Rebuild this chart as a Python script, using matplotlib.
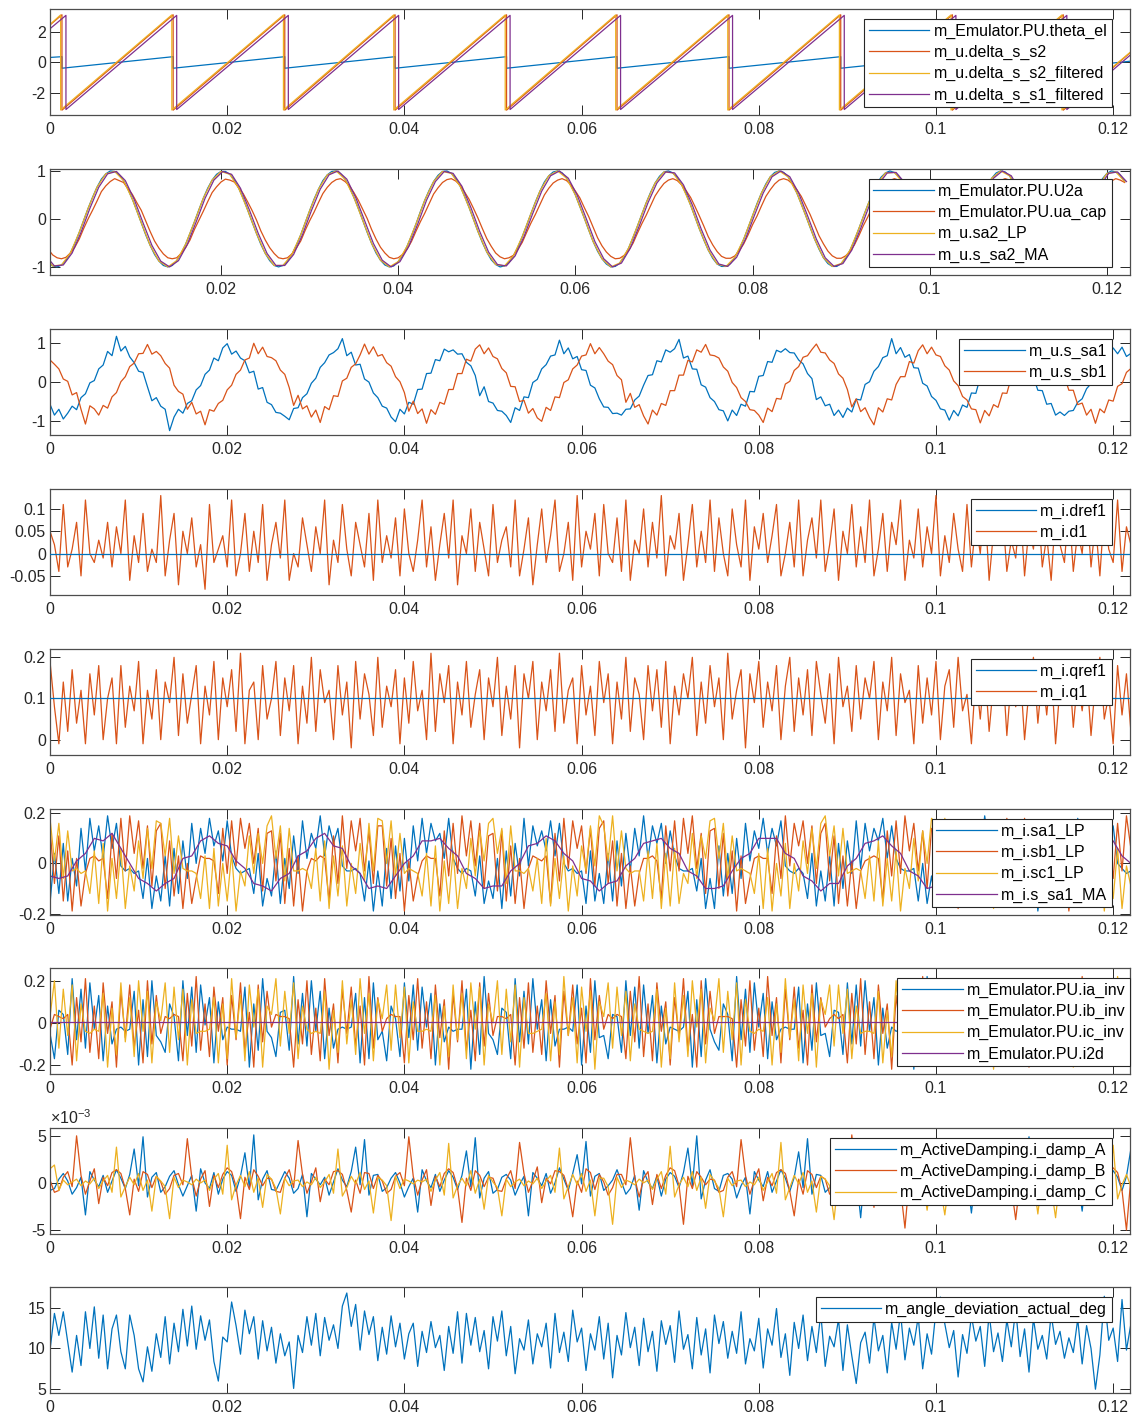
import numpy as np
import matplotlib.pyplot as plt
from matplotlib.ticker import FuncFormatter

plt.rcParams['font.family'] = ['Liberation Sans', 'DejaVu Sans']
plt.rcParams['axes.unicode_minus'] = False
plt.rcParams['mathtext.fontset'] = 'custom'
plt.rcParams['mathtext.rm'] = 'Liberation Sans'
plt.rcParams['font.size'] = 11.5

BLUE, RED, YEL, PUR = '#0072BD', '#D95319', '#EDB120', '#7E2F8E'

# ---- logged signals (sample step 0.5 ms unless noted) ----
dt = 0.0005
n = 245

# angles, rad (piecewise linear ramps)
ramp_t = [0, 0.00135, 0.00135, 0.0139, 0.0139, 0.0265, 0.0265, 0.03895, 0.03895, 0.05153, 0.05153,
          0.064, 0.064, 0.07664, 0.07664, 0.08925, 0.08925, 0.10185, 0.10185, 0.11437, 0.11437, 0.1219]
theta_el = [0.33, 0.38, -0.38, 0.38, -0.38, 0.38, -0.38, 0.38, -0.38, 0.38, -0.38,
            0.38, -0.38, 0.38, -0.38, 0.38, -0.38, 0.38, -0.38, 0.38, -0.38, 0.08]
delta_s_s2 = [2.47, 3.14, -3.14, 3.14, -3.14, 3.14, -3.14, 3.14, -3.14, 3.14, -3.14,
              3.14, -3.14, 3.14, -3.14, 3.14, -3.14, 3.14, -3.14, 3.14, -3.14, 0.63]
filt_t = [0, 0.0012, 0.0012, 0.01375, 0.01375, 0.02635, 0.02635, 0.0388, 0.0388, 0.05138, 0.05138,
          0.06385, 0.06385, 0.0765, 0.0765, 0.0891, 0.0891, 0.1017, 0.1017, 0.11422, 0.11422, 0.1219]
delta_s_s2_filt = [2.5, 3.13, -3.13, 3.13, -3.13, 3.13, -3.13, 3.13, -3.13, 3.13, -3.13,
                   3.13, -3.13, 3.13, -3.13, 3.13, -3.13, 3.13, -3.13, 3.13, -3.13, 0.66]
s1_t = [0, 0.0018, 0.0018, 0.0143, 0.0143, 0.0269, 0.0269, 0.03935, 0.03935, 0.05193, 0.05193,
        0.0644, 0.0644, 0.07704, 0.07704, 0.08965, 0.08965, 0.10225, 0.10225, 0.11477, 0.11477, 0.1219]
delta_s_s1_filt = [2.22, 3.1, -3.1, 3.1, -3.1, 3.1, -3.1, 3.1, -3.1, 3.1, -3.1,
                   3.1, -3.1, 3.1, -3.1, 3.1, -3.1, 3.1, -3.1, 3.1, -3.1, 0.47]

# voltages, percent of nominal
U2a = [
    -76, -90, -98, -100, -96, -86, -71, -51, -28, -3, 22, 45, 66, 83, 94, 100, 99, 92, 80, 62, 41, 17, -8, -33, -55,
    -74, -88, -97, -100, -97, -87, -72, -53, -30, -6, 19, 43, 64, 81, 93, 99, 99, 93, 81, 64, 43, 19, -6, -30, -53,
    -72, -87, -97, -100, -97, -88, -74, -55, -33, -8, 17, 41, 62, 80, 92, 99, 100, 94, 83, 66, 45, 22, -3, -28, -51,
    -71, -86, -96, -100, -98, -89, -76, -57, -35, -11, 15, 39, 60, 78, 91, 99, 100, 95, 84, 68, 47, 24, -1, -26, -49,
    -69, -85, -95, -100, -98, -91, -77, -59, -37, -13, 12, 36, 58, 77, 90, 98, 100, 96, 85, 70, 50, 26, 2, -23, -47,
    -67, -83, -94, -100, -99, -92, -79, -61, -39, -15, 10, 34, 56, 75, 89, 98, 100, 96, 86, 71, 52, 29, 4, -21, -44,
    -65, -82, -94, -99, -99, -93, -80, -63, -42, -18, 7, 32, 54, 73, 88, 97, 100, 97, 88, 73, 54, 31, 7, -18, -42,
    -63, -81, -93, -99, -99, -93, -82, -65, -44, -20, 5, 29, 52, 72, 87, 96, 100, 97, 89, 75, 56, 33, 9, -16, -40,
    -61, -79, -92, -99, -100, -94, -83, -67, -46, -23, 2, 27, 50, 70, 85, 96, 100, 98, 90, 76, 58, 36, 12, -14, -38,
    -59, -78, -91, -98, -100, -95, -84, -68, -48, -25, 0, 25, 48, 68, 84, 95, 100, 98, 91, 78]
ua_cap = [
    -47, -63, -75, -81, -83, -80, -71, -59, -42, -20, 0, 18, 37, 57, 69, 78, 84, 80, 76, 63, 51, 34, 18, -4, -26,
    -46, -61, -73, -81, -83, -81, -72, -60, -44, -22, -3, 16, 36, 55, 67, 77, 83, 81, 77, 65, 53, 36, 18, -2, -25,
    -44, -60, -72, -81, -83, -81, -73, -61, -46, -24, -4, 14, 34, 53, 66, 76, 82, 84, 78, 69, 55, 39, 20, 1, -22,
    -42, -59, -71, -80, -83, -81, -74, -63, -47, -26, -6, 12, 32, 52, 65, 76, 82, 84, 79, 70, 56, 41, 22, 2, -20,
    -41, -57, -71, -79, -83, -81, -76, -64, -49, -28, -8, 10, 30, 50, 64, 75, 81, 84, 80, 71, 58, 44, 24, 5, -17,
    -39, -56, -69, -78, -83, -82, -76, -66, -51, -30, -10, 8, 28, 48, 62, 74, 81, 84, 80, 71, 59, 45, 26, 6, -15,
    -37, -54, -68, -78, -82, -82, -77, -66, -52, -33, -12, 6, 27, 47, 61, 73, 81, 84, 81, 73, 61, 47, 28, 9, -13,
    -35, -52, -67, -77, -82, -82, -77, -68, -54, -35, -14, 4, 24, 45, 60, 72, 80, 84, 81, 74, 62, 48, 29, 10, -11,
    -33, -51, -66, -76, -82, -83, -78, -69, -56, -36, -16, 2, 22, 44, 58, 71, 80, 84, 81, 75, 63, 50, 32, 13, -10,
    -32, -49, -65, -76, -81, -83, -79, -70, -56, -38, -18, 0, 21, 42, 56, 70, 79, 84, 81, 76]
# filtered phase voltage, 1 ms step
sa2_LP = [
    -76, -98, -96, -71, -28, 22, 66, 94, 99, 80, 41, -8, -55,
    -88, -100, -87, -53, -6, 43, 81, 99, 93, 64, 19, -30,
    -72, -97, -97, -74, -33, 17, 62, 92, 100, 83, 45, -3, -51,
    -86, -100, -89, -57, -11, 39, 78, 99, 95, 68, 24, -26,
    -69, -95, -98, -77, -37, 12, 58, 90, 100, 85, 50, 2, -47,
    -83, -100, -92, -61, -15, 34, 75, 98, 96, 71, 29, -21,
    -65, -94, -99, -80, -42, 7, 54, 88, 100, 88, 54, 7, -42,
    -81, -99, -93, -65, -20, 29, 72, 96, 97, 75, 33, -16,
    -61, -92, -100, -83, -46, 2, 50, 85, 100, 90, 58, 12, -38,
    -78, -98, -95, -68, -25, 25, 68, 95, 98, 78]
ma_delay = 0.0002

s_sa1 = [
    -57, -85, -70, -95, -80, -62, -71, -40, -30, -2, 4, 34, 44, 79, 68, 118, 80, 92, 65, 50, 28, 25, -12, -48, -40,
    -62, -70, -125, -90, -70, -80, -55, -48, -20, -9, 20, 31, 62, 55, 88, 99, 72, 80, 62, 55, 24, 28, -18, -14, -52,
    -58, -78, -80, -88, -97, -68, -66, -40, -30, -3, 10, 38, 50, 70, 76, 86, 112, 68, 77, 44, 46, 8, 0, -28, -40,
    -62, -67, -90, -102, -70, -82, -52, -57, -19, -18, 22, 23, 58, 55, 85, 78, 83, 72, 73, 51, 42, 17, -35, -12, -50,
    -54, -73, -75, -86, -104, -66, -73, -38, -40, -1, 7, 34, 45, 67, 70, 108, 73, 88, 60, 66, 32, 30, -8, -15, -43,
    -64, -65, -81, -80, -85, -70, -69, -46, -36, -8, 17, 19, 55, 52, 83, 77, 86, 110, 62, 67, 34, 33, -7, -13, -40,
    -50, -71, -74, -100, -72, -86, -57, -62, -24, -25, 15, 17, 53, 51, 82, 77, 86, 76, 75, 57, 47, 22, 9, -45, -38,
    -61, -57, -86, -72, -91, -67, -77, -44, -46, -6, 1, 28, 40, 63, 68, 112, 73, 89, 64, 71, 37, 36, -3, -10, -37,
    -47, -69, -72, -98, -73, -87, -59, -65, -28, -29, 12, 13, 50, 48, 80, 76, 86, 77, 78, 59, 51, 27, 13, -21, -22,
    -57, -55, -85, -77, -86, -75, -73, -52, -43, -17, -4, 25, 36, 60, 66, 88, 73, 90, 66, 74]
s_sb1 = [
    57, 46, 34, 8, 2, -33, -27, -70, -108, -61, -69, -85, -60, -67, -38, -27, 1, 14, 40, 49, 73, 74, 97, 72, 79,
    68, 48, 36, -8, -24, -31, -70, -52, -82, -75, -110, -71, -75, -55, -47, -20, -8, 20, 31, 57, 62, 100, 73, 90, 66,
    63, 55, 31, 20, -14, -60, -34, -69, -61, -90, -72, -104, -63, -71, -35, -37, 3, 10, 38, 47, 70, 98, 72, 91, 67,
    71, 50, 41, 14, 1, -27, -75, -49, -81, -69, -106, -71, -83, -52, -57, -19, -19, 22, 22, 59, 54, 85, 96, 73, 88,
    66, 60, 35, 24, -11, -12, -50, -47, -80, -68, -92, -101, -65, -73, -38, -40, -1, 6, 34, 44, 67, 70, 99, 73, 89,
    73, 54, 45, 17, 6, -52, -29, -65, -58, -87, -108, -72, -85, -55, -60, -22, -22, 18, 18, 56, 52, 83, 77, 97, 70,
    68, 62, 39, 28, -1, -14, -40, -50, -71, -73, -85, -104, -67, -76, -42, -44, -5, 2, 30, 40, 64, 68, 84, 98, 77,
    75, 57, 48, 21, 10, -19, -64, -43, -76, -66, -91, -110, -66, -77, -43, -46, -6, 14, 14, 53, 49, 81, 96, 73, 90,
    70, 66, 42, 31, 3, -9, -37, -46, -69, -71, -105, -73, -87, -58, -65, -28, -29, 12, 12, 51, 47, 80, 100, 72, 84,
    77, 59, 52, 26, 14, -21, -21, -58, -54, -85, -70, -106, -69, -79, -46, -49, -11, -4, 25, 35]

# dq currents, percent
dref1 = [0, 0]
d1 = [
    5, 2, -4, 11, -3, 1, 7, -5, 12, 0, -2, 3, -1, 7, -3, 6, 0, 12, -6, 4, -2, 9, -4, 1, -2,
    13, -5, 3, 9, -7, 5, 0, 8, -3, 2, -8, 11, -2, 1, 4, -3, 12, -5, 0, 9, -4, 5, -2, 11, -6,
    2, 7, -1, 12, -6, 0, -3, 8, 2, -4, 6, 0, 12, -7, 3, -2, 11, 1, -5, 7, 2, -3, 9, -6, 12,
    -2, 4, -1, 8, -5, 10, 0, -4, 3, 12, -3, 6, -6, 2, 9, -1, 12, -7, 4, 0, 10, -4, 7, 1, -5,
    11, -2, 3, 6, -3, 12, -5, 1, 8, -7, 2, 10, -2, 4, 12, -4, 0, 7, -6, 13, -3, 5, 1, 9, -5,
    11, 0, -2, 8, -4, 12, -6, 3, 0, 10, -3, 7, -1, 13, -5, 4, 1, 9, -6, 2, 11, -3, 5, -2, 12,
    -4, 8, 0, -5, 10, 2, -3, 12, -6, 6, 1, 9, -2, 4, 11, -5, 0, 7, -3, 12, -5, 3, 8, -1, 12,
    -4, 2, 10, -6, 5, 0, 11, -3, 6, -2, 12, -5, 1, 9, -4, 7, 2, 12, -6, 3, -1, 10, -3, 6, 0,
    13, -5, 4, -2, 9, 1, -4, 11, -3, 7, 0, 12, -6, 5, 2, 10, -4, 3, -1, 11, -5, 6, 1, 12, -3,
    4, -6, 9, 2, -2, 11, -4, 5, 0, 12, -3, 7, -5, 10, 1, -2, 12, -4, 6, 2]
qref1 = [10, 10]
q1 = [
    19, 8, -1, 14, 2, 17, 4, 12, -1, 16, 6, 18, 0, 10, 15, -1, 18, 3, 13, 7, 19, -1, 12, 5, 17,
    0, 14, 9, 20, 1, 16, 4, 11, 18, -1, 13, 6, 19, 0, 15, 8, 17, 2, 21, -1, 12, 14, 0, 18, 5,
    10, 19, 1, 15, 7, 18, -1, 13, 4, 20, 2, 17, 9, 12, 0, 18, 6, 14, -2, 19, 5, 16, 11, 1, 20,
    3, 13, 8, 17, -1, 15, 4, 19, 7, 12, 0, 21, 2, 16, 9, 18, -1, 14, 6, 19, 3, 11, 17, 0, 15,
    8, 20, 1, 13, 5, 18, -2, 16, 10, 19, 0, 14, 7, 17, 2, 21, 4, 12, 15, -1, 18, 6, 13, 1, 19,
    9, 16, -1, 14, 5, 20, 2, 15, 11, 0, 18, 7, 17, 3, 19, -1, 13, 6, 16, 10, 20, 1, 14, 4, 18,
    8, 15, 0, 21, 5, 12, 17, -2, 16, 9, 19, 3, 14, 7, 18, 0, 13, 20, 2, 15, 6, 17, 1, 19, 11,
    4, 16, -1, 20, 8, 13, 2, 18, 5, 15, 10, 19, 0, 14, 7, 20, 1, 16, 9, 12, -1, 18, 4, 15, 6,
    19, 0, 13, 17, 3, 20, 7, 11, -1, 16, 5, 18, 2, 14, 10, 19, 1, 15, 8, 17, 0, 12, 20, 4, 16,
    6, 18, -1, 13, 9, 19, 3, 15, 7, 17, 1, 14, 20, 5, 11, -1, 18, 6, 16, 2]

# filtered phase currents, percent
sa1_LP = [
    -16, 4, -12, 8, -15, 2, -9, 14, -3, 18, 5, 15, 2, 19, 6, 16, -1, -3, -2, -4, -3, -14, 2, -18, -5,
    -15, 3, -17, 6, -12, 9, -6, 16, 0, 14, 4, 18, 7, 13, 1, 17, 3, -2, -4, -3, -2, -12, 4, -17, -6,
    -13, 5, -16, 2, -10, 11, -4, 17, 2, 12, 6, 19, 3, 15, 8, 14, -1, -3, -3, -2, -4, -15, 1, -19, -3,
    -17, 6, -14, 7, -11, 10, -7, 15, 1, 18, 4, 16, 9, 12, 2, 18, 2, -2, -4, -2, -3, -13, 3, -16, -7,
    -14, 2, -18, 5, -13, 8, -5, 18, -1, 15, 7, 13, 5, 17, 3, 16, 0, -3, -2, -4, -3, -16, 5, -15, -4,
    -16, 4, -15, 9, -9, 12, -3, 14, 3, 19, 2, 15, 8, 16, 0, 13, 3, -2, -3, -3, -2, -11, 2, -18, -6,
    -18, 7, -13, 4, -12, 10, -6, 16, 1, 13, 6, 18, 4, 14, 7, 17, -1, -3, -4, -2, -4, -14, 4, -17, -3,
    -15, 3, -17, 8, -10, 9, -4, 17, -2, 16, 5, 14, 9, 18, 2, 15, 2, -2, -3, -3, -2, -15, 0, -16, -5,
    -17, 5, -14, 6, -13, 11, -5, 15, 2, 17, 3, 19, 6, 13, 4, 16, 1, -3, -2, -4, -3, -12, 3, -19, -4,
    -14, 4, -16, 7, -11, 8, -7, 18, 0, 14, 6, 16, 3, 17, 8, 15, 0, -2, -4, -3]
sb1_LP = [
    14, -8, 11, -15, 5, -19, 2, -17, -4, 2, 3, 1, 2, -14, 12, -6, 18, -3, 19, 4, 17, -2, 15, -9, 13,
    16, -10, 9, -13, 3, -18, 0, -16, -6, 3, 2, 2, 1, -12, 14, -4, 17, -1, 18, 6, 16, 0, 14, -11, 12,
    13, -7, 12, -16, 6, -17, 3, -19, -3, 2, 1, 3, 2, -15, 11, -8, 19, -2, 17, 5, 18, -3, 13, -8, 15,
    15, -9, 10, -14, 4, -19, 1, -15, -5, 1, 3, 2, 2, -13, 13, -5, 16, -4, 19, 3, 17, -1, 16, -10, 11,
    12, -11, 13, -15, 7, -16, 2, -18, -2, 3, 2, 1, 3, -16, 12, -7, 18, -2, 17, 6, 15, -4, 14, -9, 14,
    17, -8, 9, -17, 4, -18, -1, -17, -4, 2, 2, 3, 1, -14, 15, -3, 17, -3, 18, 4, 19, -2, 12, -12, 13,
    14, -10, 12, -13, 5, -19, 3, -16, -6, 2, 3, 2, 2, -12, 11, -6, 19, -1, 16, 7, 17, 0, 15, -8, 12,
    16, -7, 11, -16, 3, -17, 1, -18, -3, 1, 2, 3, 2, -15, 13, -5, 17, -4, 19, 5, 16, -3, 13, -10, 14,
    13, -9, 10, -14, 6, -18, 2, -15, -5, 3, 1, 2, 3, -13, 14, -8, 18, -2, 17, 3, 18, -1, 16, -9, 11,
    15, -11, 13, -15, 4, -19, 0, -17, -4, 2, 3, 1, 2, -16, 12, -6, 16, -3, 19, 6]
sc1_LP = [
    18, 1, 16, -6, 13, -3, -2, -4, -3, -12, 5, -16, 8, -19, 2, -14, 6, -18, -1, -11, 9, -6, 14, -2, 17,
    16, 3, 18, -4, 11, -2, -3, -3, -4, -14, 3, -18, 6, -17, 0, -15, 4, -19, -3, -9, 11, -4, 12, 0, 15,
    19, 2, 15, -7, 14, -3, -3, -2, -3, -10, 6, -15, 9, -18, 3, -13, 7, -17, 0, -12, 8, -7, 16, -3, 18,
    17, 0, 17, -5, 12, -4, -2, -3, -4, -13, 4, -17, 7, -19, 1, -16, 5, -18, -2, -10, 10, -5, 13, 1, 16,
    18, 4, 14, -8, 15, -3, -3, -4, -2, -11, 2, -16, 10, -17, 2, -14, 3, -19, -1, -13, 7, -3, 15, -1, 19,
    15, 1, 19, -3, 13, -2, -4, -3, -3, -15, 5, -14, 8, -18, 4, -17, 6, -16, -4, -8, 12, -6, 11, 2, 17,
    18, 2, 16, -6, 11, -3, -2, -3, -4, -12, 4, -18, 6, -19, 0, -13, 8, -18, 0, -11, 9, -4, 14, -2, 16,
    19, 3, 15, -5, 14, -4, -3, -2, -3, -14, 3, -15, 9, -17, 2, -15, 5, -19, -2, -10, 10, -7, 13, 0, 18,
    16, 0, 18, -7, 12, -3, -3, -4, -3, -11, 6, -17, 7, -18, 3, -16, 4, -17, -3, -12, 8, -5, 15, -1, 17,
    17, 2, 16, -4, 13, -2, -4, -3, -2, -13, 5, -16, 8, -19, 1, -14, 6, -18, -1, -9]
# moving average of phase a current, 1 ms step
s_sa1_MA = [
    -5, -6, -5, 1, 4, 10, 9, 12, 6, 0, -6, -8, -11, -8, -6, 2, 3, 9, 11, 8, 7, 1, -2, -8, -9,
    -11, -6, -4, 3, 5, 10, 12, 7, 6, -1, -4, -10, -9, -10, -5, 0, 3, 9, 9, 10, 6, 3, -4, -6, -10,
    -9, -9, -3, 0, 7, 8, 11, 9, 4, 1, -6, -7, -11, -8, -7, -1, 2, 8, 9, 10, 6, 4, -3, -5, -10,
    -10, -9, -3, 2, 4, 10, 10, 10, 4, 2, -5, -7, -11, -8, -8, -1, 2, 8, 9, 11, 7, 4, -3, -5, -10,
    -9, -9, -4, -1, 6, 7, 11, 8, 7, 0, -3, -9, -9, -10, -6, -4, 3, 6, 10, 9, 9, 3, 0]

# inverter currents, percent
ia_inv = [
    -5, -17, 6, 4, -15, 21, -8, 16, -12, 19, -3, 13, -18, 8, -10, -3, -2, -4, -3, 15, -20, 11, -16, 20, -6,
    -9, -14, 9, 3, -18, 20, -6, 17, -14, 18, -1, 12, -19, 10, -8, -2, -3, -3, -4, 17, -21, 9, -13, 21, -4,
    -7, -16, 5, 6, -13, 22, -10, 14, -11, 20, -4, 15, -17, 7, -12, -3, -2, -3, -2, 14, -19, 12, -17, 19, -8,
    -4, -18, 8, 2, -16, 19, -7, 18, -13, 17, -2, 14, -20, 9, -9, -2, -4, -3, -3, 16, -22, 10, -15, 22, -5,
    -8, -15, 7, 5, -17, 21, -9, 15, -10, 21, -3, 11, -18, 11, -11, -3, -3, -2, -4, 18, -20, 8, -14, 20, -7,
    -6, -17, 4, 3, -14, 20, -6, 17, -12, 18, -5, 13, -19, 8, -10, -2, -3, -4, -2, 15, -21, 11, -16, 21, -3,
    -9, -13, 9, 4, -18, 22, -8, 16, -14, 19, -2, 14, -17, 10, -8, -3, -2, -3, -3, 17, -19, 9, -13, 19, -6,
    -5, -16, 6, 5, -15, 19, -10, 18, -11, 20, -4, 12, -20, 7, -12, -2, -4, -3, -4, 14, -22, 12, -17, 22, -4,
    -7, -18, 8, 2, -16, 21, -7, 14, -13, 17, -3, 15, -18, 9, -9, -3, -3, -2, -3, 16, -20, 10, -15, 20, -8,
    -4, -15, 5, 6, -17, 20, -9, 17, -12, 21, -1, 13, -19, 11, -11, -2, -3, -4, -2, 18]
ib_inv = [
    -3, 4, 3, 2, 4, -20, 12, -9, 21, -14, 8, -17, 19, -5, 10, -21, 15, -7, 18, -12, 6, -19, 20, -10, 13,
    -5, 3, 2, 4, 3, -18, 14, -11, 22, -13, 9, -16, 17, -4, 12, -20, 13, -8, 19, -14, 5, -21, 18, -9, 15,
    -2, 4, 3, 3, 2, -21, 11, -10, 20, -15, 7, -18, 21, -6, 9, -19, 16, -5, 17, -11, 8, -20, 22, -12, 12,
    -4, 2, 4, 3, 3, -19, 13, -8, 21, -12, 10, -17, 18, -7, 11, -22, 14, -9, 20, -13, 6, -18, 19, -11, 14,
    -6, 3, 3, 2, 4, -20, 12, -12, 19, -14, 8, -15, 20, -5, 13, -21, 15, -6, 18, -10, 7, -19, 21, -8, 13,
    -3, 4, 2, 4, 3, -17, 15, -9, 22, -16, 9, -18, 19, -4, 10, -20, 12, -7, 21, -13, 4, -21, 20, -10, 15,
    -5, 3, 3, 3, 2, -21, 11, -11, 20, -13, 7, -16, 22, -6, 12, -19, 16, -8, 17, -12, 6, -20, 18, -9, 12,
    -2, 2, 4, 2, 4, -19, 14, -10, 21, -15, 10, -17, 18, -5, 9, -22, 13, -5, 19, -11, 8, -18, 22, -12, 14,
    -4, 4, 3, 4, 3, -18, 12, -8, 20, -14, 8, -19, 21, -7, 11, -20, 15, -9, 18, -13, 5, -21, 19, -10, 13,
    -6, 3, 2, 3, 3, -20, 13, -11, 22, -12, 9, -16, 20, -4, 12, -19, 14, -6, 17, -14]
ic_inv = [
    3, 20, -12, 16, -6, 18, -18, 9, -4, -5, -3, -4, 14, -21, 7, -15, 19, -9, 12, -16, 20, -4, 15, -19, 10,
    1, 19, -14, 17, -8, 16, -20, 11, -5, -4, -4, -3, 12, -19, 9, -17, 21, -7, 13, -18, 18, -2, 16, -21, 8,
    4, 21, -11, 15, -5, 19, -17, 8, -3, -5, -4, -5, 15, -22, 6, -14, 20, -10, 11, -15, 21, -5, 14, -18, 11,
    2, 18, -13, 18, -7, 17, -19, 10, -4, -4, -3, -4, 13, -20, 8, -16, 18, -8, 14, -17, 19, -3, 17, -20, 9,
    0, 20, -15, 16, -9, 18, -21, 12, -5, -5, -4, -3, 14, -18, 10, -15, 22, -6, 12, -19, 17, -4, 15, -22, 10,
    3, 19, -12, 17, -6, 15, -18, 9, -3, -4, -5, -4, 16, -21, 7, -17, 19, -9, 13, -16, 20, -2, 16, -19, 7,
    1, 21, -14, 15, -8, 19, -20, 11, -4, -5, -3, -4, 12, -20, 9, -14, 21, -7, 11, -18, 18, -5, 14, -21, 11,
    4, 18, -11, 18, -5, 16, -17, 8, -5, -4, -4, -5, 15, -19, 6, -16, 20, -10, 14, -15, 21, -3, 17, -18, 8,
    2, 20, -13, 16, -7, 18, -19, 10, -3, -5, -3, -3, 13, -22, 8, -17, 18, -8, 12, -17, 19, -4, 15, -20, 10,
    0, 19, -15, 17, -9, 17, -21, 12, -4, -4, -5, -4, 14, -20, 10, -15, 22, -6, 13, -16]
i2d = [0.5, 0.5]

# active damping currents, units of 1e-4
damp_A = [
    -8, -6, 4, 10, 2, -12, -5, 6, -34, 12, 3, -4, 8, -10, 2, 14, 5, -6, 9, 36, -3, 49, -15, 6, 11,
    -10, -4, 7, 13, -2, -14, -3, 8, -30, 15, 0, -6, 11, -12, 4, 12, 8, -9, 7, 32, -5, 51, -18, 4, 13,
    -7, -8, 2, 12, 5, -11, -6, 9, -36, 10, 4, -2, 6, -13, 1, 15, 3, -4, 12, 38, -2, 46, -13, 8, 9,
    -9, -5, 5, 11, 0, -15, -4, 5, -31, 14, 2, -5, 9, -9, 3, 13, 6, -7, 8, 34, -4, 48, -16, 5, 12,
    -11, -7, 6, 9, 3, -13, -2, 7, -35, 11, 5, -3, 10, -11, 0, 16, 4, -8, 10, 30, -1, 44, -14, 7, 10,
    -8, -3, 3, 14, 1, -12, -6, 8, -29, 13, 1, -6, 7, -14, 4, 11, 7, -5, 11, 37, -3, 50, -17, 3, 14,
    -6, -9, 8, 10, 4, -16, -3, 6, -33, 12, 3, -4, 12, -10, 2, 14, 5, -9, 6, 33, -5, 47, -12, 9, 8,
    -10, -5, 4, 12, -1, -11, -5, 9, -37, 15, 0, -2, 8, -12, 3, 12, 8, -6, 9, 35, -2, 45, -15, 6, 11,
    -7, -6, 6, 11, 2, -14, -4, 7, -32, 10, 4, -5, 11, -13, 1, 15, 4, -7, 13, 31, -4, 49, -18, 5, 13,
    -9, -8, 5, 13, 0, -12, -6, 6, -30, 14, 2, -3, 9, -11, 4, 13, 6, -8, 7, 36]
damp_B = [
    3, -10, -8, 6, 12, -4, 50, 8, -12, 2, 15, -22, 6, -3, 11, 14, 10, -6, -34, 4, -9, 12, 9, -5, 7,
    1, -12, -6, 8, 10, -2, 47, 6, -14, 4, 13, -25, 8, -5, 9, 16, 12, -4, -38, 6, -7, 14, 7, -3, 5,
    4, -9, -10, 5, 14, -5, 45, 9, -11, 1, 16, -20, 4, -2, 12, 13, 9, -8, -31, 3, -11, 11, 10, -6, 8,
    2, -11, -7, 7, 11, -3, 49, 7, -13, 3, 14, -24, 7, -4, 10, 15, 11, -5, -42, 5, -8, 13, 8, -4, 6,
    5, -8, -9, 4, 13, -6, 43, 10, -10, 2, 17, -21, 5, -1, 13, 12, 8, -7, -36, 2, -10, 15, 11, -7, 9,
    1, -13, -5, 9, 9, -2, 48, 5, -15, 5, 12, -23, 9, -6, 8, 16, 13, -3, -44, 7, -6, 12, 6, -2, 4,
    3, -10, -8, 6, 12, -4, 46, 8, -12, 3, 15, -19, 6, -3, 11, 14, 10, -9, -35, 4, -12, 13, 9, -5, 7,
    4, -12, -6, 5, 14, -5, 51, 6, -11, 1, 13, -26, 8, -2, 12, 13, 12, -6, -48, 6, -8, 11, 10, -4, 8,
    2, -9, -9, 8, 10, -3, 44, 9, -14, 4, 16, -22, 4, -5, 9, 15, 9, -4, -39, 3, -9, 14, 8, -6, 5,
    5, -11, -7, 6, 13, -6, 47, 7, -13, 2, 14, -21, 7, -3, 10, 16, 11, -8, -50, 5]
damp_C = [
    15, 19, -8, 3, -2, 1, 4, -3, 2, -1, 5, -6, 2, 8, -10, 38, -15, -4, 6, -2, 10, -8, 3, -30, 7,
    2, -4, -38, 6, -5, 3, 1, -2, 4, 0, 3, -8, 4, 10, -12, 40, -18, -2, 8, -4, 12, -10, 5, -26, 9,
    4, -6, -33, 5, -3, 2, 3, -4, 1, -2, 6, -5, 1, 9, -11, 36, -14, -5, 7, -1, 11, -7, 2, -32, 6,
    3, -3, -40, 7, -6, 4, 2, -1, 3, 1, 4, -9, 3, 11, -13, 42, -16, -3, 5, -3, 13, -11, 4, -28, 8,
    1, -5, -35, 4, -4, 1, 4, -3, 2, -1, 5, -6, 2, 8, -10, 37, -17, -4, 9, -2, 10, -9, 3, -35, 5,
    5, -4, -44, 6, -5, 3, 1, -2, 4, 0, 3, -7, 4, 12, -12, 39, -15, -2, 6, -4, 12, -8, 6, -27, 9,
    2, -6, -36, 5, -3, 2, 3, -4, 1, -2, 6, -8, 1, 10, -11, 43, -18, -5, 8, -1, 11, -10, 2, -31, 7,
    4, -3, -39, 7, -6, 4, 2, -1, 3, 1, 4, -6, 3, 9, -13, 38, -14, -3, 7, -3, 13, -7, 5, -29, 6,
    3, -5, -34, 4, -4, 1, 4, -3, 2, -1, 5, -9, 2, 11, -10, 41, -16, -4, 5, -2, 10, -11, 3, -33, 8,
    1, -4, -37, 6, -5, 3, 1, -2, 4, 0, 3, -7, 4, 10, -12, 40, -17, -2, 9, -4]

# angle deviation, tenths of a degree
angle_dev = [
    98, 143, 116, 145, 108, 71, 116, 79, 145, 100, 151, 88, 141, 75, 124, 141, 96, 75, 141, 116,
    75, 59, 102, 72, 118, 89, 139, 81, 131, 96, 148, 103, 152, 99, 140, 110, 135, 84, 60, 114,
    108, 157, 128, 93, 147, 118, 139, 87, 134, 97, 126, 82, 118, 91, 108, 51, 116, 95, 139, 104,
    143, 91, 138, 110, 129, 100, 152, 168, 127, 154, 98, 146, 117, 139, 85, 126, 93, 140, 102, 131,
    87, 118, 131, 78, 121, 95, 133, 101, 116, 73, 127, 94, 145, 82, 143, 104, 138, 96, 122, 75,
    139, 109, 146, 91, 127, 69, 112, 98, 135, 81, 118, 102, 131, 76, 143, 95, 120, 84, 147, 108,
    125, 73, 118, 98, 139, 87, 131, 64, 116, 92, 144, 101, 126, 79, 137, 96, 121, 72, 134, 105,
    128, 83, 146, 99, 117, 75, 138, 92, 124, 70, 141, 106, 133, 88, 121, 94, 145, 81, 112, 97,
    137, 76, 124, 104, 149, 89, 118, 67, 132, 100, 141, 85, 127, 95, 143, 78, 115, 102, 136, 73,
    129, 91, 57, 107, 120, 82, 138, 97, 116, 70, 132, 99, 144, 86, 125, 104, 139, 75, 118, 93,
    147, 163, 130, 101, 122, 65, 117, 94, 140, 109, 127, 78, 143, 96, 119, 84, 135, 102, 148, 90,
    124, 71, 137, 99, 116, 87, 142, 105, 121, 88, 113, 95, 136, 81, 128, 100, 50, 92, 164, 110,
    125, 84, 160, 98, 130]

t = np.arange(n) * dt
t_ms = np.arange(len(sa2_LP)) * 0.001

W, H = 1135, 1418
fig = plt.figure(figsize=(W / 100, H / 100), dpi=100)
tops = [9.3, 169.3, 329.3, 489.3, 649.3, 809.3, 968.3, 1128.3, 1287.3]
axes = [fig.add_axes([50 / W, 1 - (tp + 106) / H, 1080 / W, 106 / H]) for tp in tops]

xticks = [0, 0.02, 0.04, 0.06, 0.08, 0.1, 0.12]
gfmt = FuncFormatter(lambda v, p: '%g' % round(v, 6))
LW = 0.9
FS = 11.5


def style(ax, ylim, yticks, xlim=(0, 0.1219), xt=xticks, yfmt=gfmt):
    ax.set_xlim(*xlim)
    ax.set_ylim(*ylim)
    ax.set_xticks(xt)
    ax.set_yticks(yticks)
    ax.xaxis.set_major_formatter(gfmt)
    ax.yaxis.set_major_formatter(yfmt)
    ax.tick_params(direction='in', length=7.5, width=0.7, top=True, right=True,
                   colors='#262626', labelsize=FS)
    ax.tick_params(axis='x', pad=5)
    ax.tick_params(axis='y', pad=3)
    for s in ax.spines.values():
        s.set_color('#4d4d4d')
        s.set_linewidth(0.9)


def legend(ax, xr=0.9833):
    leg = ax.legend(loc='upper right', bbox_to_anchor=(xr, 0.908), borderaxespad=0,
                    fancybox=False, framealpha=1, edgecolor='#262626', handlelength=3.8,
                    handletextpad=0.25, labelspacing=0.38, borderpad=0.3, fontsize=FS)
    leg.get_frame().set_linewidth(0.8)


pct = lambda v: np.array(v) / 100

# 1: angles
ax = axes[0]
ax.plot(ramp_t, theta_el, color=BLUE, lw=LW, label='m_Emulator.PU.theta_el')
ax.plot(ramp_t, delta_s_s2, color=RED, lw=LW, label='m_u.delta_s_s2')
ax.plot(filt_t, delta_s_s2_filt, color=YEL, lw=LW, label='m_u.delta_s_s2_filtered')
ax.plot(s1_t, delta_s_s1_filt, color=PUR, lw=LW, label='m_u.delta_s_s1_filtered')
style(ax, (-3.48, 3.5), [-2, 0, 2])
legend(ax)

# 2: grid voltage
ax = axes[1]
ax.plot(t, pct(U2a), color=BLUE, lw=LW, label='m_Emulator.PU.U2a')
ax.plot(t, pct(ua_cap), color=RED, lw=LW, label='m_Emulator.PU.ua_cap')
ax.plot(t_ms, pct(sa2_LP), color=YEL, lw=LW, label='m_u.sa2_LP')
ax.plot(t_ms + ma_delay, pct(sa2_LP), color=PUR, lw=LW, label='m_u.s_sa2_MA')
style(ax, (-1.175, 1.035), [-1, 0, 1], xlim=(0.0007, 0.1226), xt=xticks[1:])
legend(ax)

# 3: measured phase voltages
ax = axes[2]
ax.plot(t, pct(s_sa1), color=BLUE, lw=LW, label='m_u.s_sa1')
ax.plot(t, pct(s_sb1), color=RED, lw=LW, label='m_u.s_sb1')
style(ax, (-1.37, 1.36), [-1, 0, 1])
legend(ax)

# 4: d current
ax = axes[3]
ax.plot([0, t[-1]], pct(dref1), color=BLUE, lw=LW, label='m_i.dref1', zorder=3)
ax.plot(t, pct(d1), color=RED, lw=LW, label='m_i.d1', zorder=2)
style(ax, (-0.0935, 0.144), [-0.05, 0, 0.05, 0.1])
legend(ax)

# 5: q current
ax = axes[4]
ax.plot([0, t[-1]], pct(qref1), color=BLUE, lw=LW, label='m_i.qref1', zorder=3)
ax.plot(t, pct(q1), color=RED, lw=LW, label='m_i.q1', zorder=2)
style(ax, (-0.038, 0.2195), [0, 0.1, 0.2])
legend(ax)

# 6: filtered phase currents
ax = axes[5]
ax.plot(t, pct(sa1_LP), color=BLUE, lw=LW, label='m_i.sa1_LP')
ax.plot(t, pct(sb1_LP), color=RED, lw=LW, label='m_i.sb1_LP')
ax.plot(t, pct(sc1_LP), color=YEL, lw=LW, label='m_i.sc1_LP')
ax.plot(t_ms, pct(s_sa1_MA), color=PUR, lw=LW, label='m_i.s_sa1_MA')
style(ax, (-0.207, 0.216), [-0.2, 0, 0.2])
legend(ax)

# 7: inverter currents
ax = axes[6]
ax.plot(t, pct(ia_inv), color=BLUE, lw=LW, label='m_Emulator.PU.ia_inv')
ax.plot(t, pct(ib_inv), color=RED, lw=LW, label='m_Emulator.PU.ib_inv')
ax.plot(t, pct(ic_inv), color=YEL, lw=LW, label='m_Emulator.PU.ic_inv')
ax.plot([0, t[-1]], pct(i2d), color=PUR, lw=LW, label='m_Emulator.PU.i2d')
style(ax, (-0.244, 0.259), [-0.2, 0, 0.2])
legend(ax, xr=1.0)

# 8: active damping (axis in units of 1e-3)
ax = axes[7]
ax.plot(t, np.array(damp_A) * 1e-4, color=BLUE, lw=LW, label='m_ActiveDamping.i_damp_A')
ax.plot(t, np.array(damp_B) * 1e-4, color=RED, lw=LW, label='m_ActiveDamping.i_damp_B')
ax.plot(t, np.array(damp_C) * 1e-4, color=YEL, lw=LW, label='m_ActiveDamping.i_damp_C')
style(ax, (-5.46e-3, 5.8e-3), [-5e-3, 0, 5e-3],
      yfmt=FuncFormatter(lambda v, p: '%g' % round(v * 1e3, 6)))
ax.text(0.0, 1.015, r'$\times\mathregular{10^{-3}}$', transform=ax.transAxes,
        ha='left', va='bottom', fontsize=FS, color='#262626')
legend(ax)

# 9: angle deviation
ax = axes[8]
ax.plot(t, np.array(angle_dev) / 10, color=BLUE, lw=LW, label='m_angle_deviation_actual_deg')
style(ax, (4.5, 17.5), [5, 10, 15])
legend(ax)

fig.savefig('out.png', dpi=100)
